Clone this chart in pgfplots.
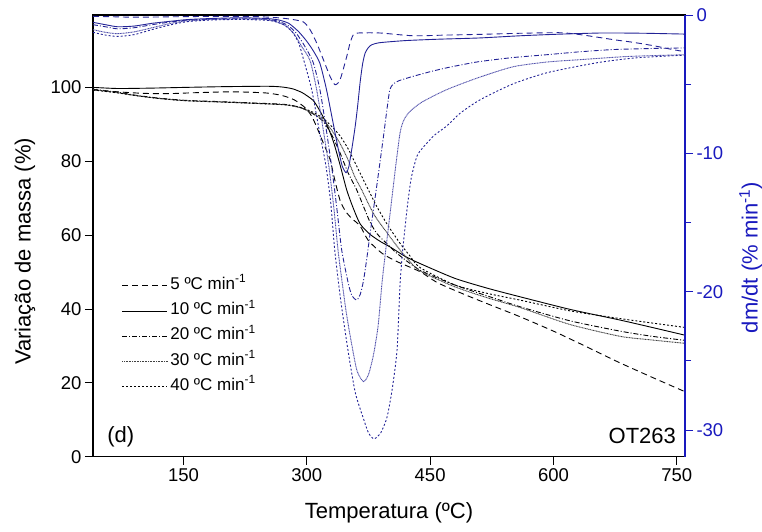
\documentclass[border=0pt]{standalone}
\usepackage{fontspec}
\setmainfont{Liberation Sans}
\usepackage{pgfplots}
\pgfplotsset{compat=1.18}
\definecolor{dtg}{RGB}{35,35,150}
\definecolor{raxis}{RGB}{25,25,190}
\begin{document}
\begin{tikzpicture}[x=1pt,y=1pt]
\path[use as bounding box] (0,0) rectangle (762,531);
\begin{axis}[
 at={(93pt,74.3pt)}, anchor=south west,
 scale only axis, width=592pt, height=441.7pt,
 xmin=40, xmax=760, ymin=0, ymax=119.6,
 xtick={150,300,450,600,750}, ytick={0,20,40,60,80,100},
 xtick pos=left, ytick pos=left, tick align=outside,
 major tick length=8pt,
 tick style={black, line width=0.8pt},
 axis line style={line width=1.2pt},
 /pgf/number format/assume math mode=true,
 every tick label/.append style={font=\fontsize{18.5}{22}\selectfont},
 xlabel={Temperatura (ºC)}, ylabel={Variação de massa (\%)},
 label style={font=\fontsize{22}{26}\selectfont},
 xlabel style={at={(axis description cs:0.5,-0.1275)}, anchor=center},
 ylabel style={at={(axis description cs:-0.1149,0.465)}, anchor=center},
 legend style={at={(rel axis cs:0.0435,0.4135)}, anchor=north west, draw=none, fill=none,
   font=\fontsize{17}{20}\selectfont, row sep=6.25pt, column sep=2.5pt,
   nodes={inner sep=0pt, text height=13pt, text depth=6pt}},
 legend cell align=left,
 legend image code/.code={\draw[#1] (0pt,0pt) -- (45pt,0pt);},
 every axis plot/.append style={line width=0.9pt},
]
\addplot[black, dash pattern=on 6pt off 4pt, smooth, tension=0.4] coordinates {
(40,99.3) (70,98.8) (100,98.4) (130,98.3) (170,98.6) (210,98.8) (250,98.5) (270,97.8) (285,96.6) (298,94.5) (306,92.2) (312,89.3) (320,85) (328.3,80.5) (334,75) (340.5,69.4) (347,66.5) (354.7,64.5) (364.8,62.5) (375,58.5) (392,55) (410,52.8) (437.8,50.1) (460,47) (498.6,43.3) (530,40.5) (559.4,37.9) (600,34) (640,29.8) (680,25.5) (720,21.5) (760,17.6)};
\addlegendentry{5 ºC min\textsuperscript{-1}}
\addplot[black, smooth, tension=0.4] coordinates {
(40,100) (70,99.7) (110,99.8) (152,100) (200,100.2) (253,100.3) (270,100.1) (283,99.6) (295,98.5) (307.6,96.5) (315,94) (324,90.2) (332.4,85.3) (340.5,79) (348.6,72.2) (356.7,67.2) (365,63) (377,60.2) (390,58.2) (401.3,56.8) (420,54.2) (437.8,52.3) (480,48.3) (520,45.6) (559.4,43.3) (620,39.9) (681,37) (720,35) (760,32.9)};
\addlegendentry{10 ºC min\textsuperscript{-1}}
\addplot[black, dash pattern=on 5pt off 2pt on 1pt off 2pt, smooth, tension=0.4] coordinates {
(40,99.5) (70,98.7) (91,97.9) (120,97.1) (152,96.5) (200,96.1) (233,95.8) (273,95.4) (290,94.7) (300,93.8) (310,92.5) (320,90.8) (330,87.3) (340,82.5) (350,77) (360.8,72.2) (370,67.2) (377,63.5) (385,60.5) (395,58.2) (410,55) (437.8,50.5) (480,46.5) (520,43.5) (559.4,40.6) (620,36.8) (681,34) (720,32.6) (760,31.5)};
\addlegendentry{20 ºC min\textsuperscript{-1}}
\addplot[black!75, dash pattern=on 1pt off 0.6pt, smooth, tension=0.4] coordinates {
(40,99.4) (70,98.6) (91,97.8) (120,97.0) (152,96.4) (200,96.0) (233,95.7) (273,95.3) (290,94.6) (300,93.8) (310,92.6) (320,91.1) (330,88.5) (340,85) (350,80.5) (358,76) (366.9,72.2) (375,68.5) (382,65.5) (389,63.2) (397,60.8) (407,57.8) (420,54.2) (437.8,50.3) (480,46) (520,43) (559.4,40.4) (620,35.8) (681,32.6) (720,31.6) (760,30.7)};
\addlegendentry{30 ºC min\textsuperscript{-1}}
\addplot[black, dash pattern=on 2pt off 2pt, smooth, tension=0.4] coordinates {
(40,99.3) (70,98.5) (91,97.8) (120,97.0) (152,96.4) (200,96.0) (233,95.7) (273,95.3) (290,94.7) (300,94) (310,93) (320,91.6) (330,89.5) (340,87) (350,83.5) (360,79) (375,72.2) (385,67.8) (397,63.2) (405,60.5) (415,57.3) (425,54.5) (437.8,51.2) (480,46.5) (520,44.2) (559.4,42.4) (620,39.5) (681,37.4) (720,36.2) (760,35.0)};
\addlegendentry{40 ºC min\textsuperscript{-1}}
\node[anchor=west, font=\fontsize{22}{26}\selectfont, inner sep=0pt] at (rel axis cs:0.024,0.0445) {(d)};
\node[anchor=east, font=\fontsize{22}{26}\selectfont, inner sep=0pt] at (rel axis cs:0.985,0.047) {OT263};
\end{axis}
\begin{axis}[
 at={(93pt,74.3pt)}, anchor=south west,
 scale only axis, width=592pt, height=441.7pt,
 xmin=40, xmax=760, ymin=-31.93, ymax=0,
 axis x line=none, axis y line*=right,
 ytick={-30,-20,-10,0}, minor ytick={-25,-15,-5},
 tick align=outside, major tick length=8pt, minor tick length=6pt,
 y axis line style={raxis, line width=1.2pt},
 ytick style={raxis, line width=0.8pt},
 minor y tick style={raxis, line width=0.8pt},
 yticklabel style={raxis, font=\fontsize{18.5}{22}\selectfont},
 /pgf/number format/assume math mode=true,
 ylabel={dm/dt (\% min\textsuperscript{-1})},
 ylabel style={raxis, font=\fontsize{22}{26}\selectfont, at={(axis description cs:1.111,0.451)}, anchor=center},
 every axis plot/.append style={line width=0.9pt},
]
\addplot[dtg, dash pattern=on 6pt off 4pt, smooth, tension=0.4] coordinates {
(40,-0.1) (60,-0.12) (80,-0.15) (110,-0.15) (150,-0.12) (200,-0.1) (240,-0.12) (265,-0.2) (280,-0.3) (295.8,-0.5) (304,-1.06) (312.1,-2.03) (320.2,-3.23) (328.3,-4.44) (334.4,-5.04) (340.5,-4.68) (348.6,-3.0) (352.6,-2.03) (356.7,-1.42) (362.7,-1.3) (389,-1.3) (429,-1.5) (470,-1.45) (510,-1.4) (560,-1.32) (608,-1.28) (630,-1.4) (653,-1.6) (675,-1.8) (694,-1.95) (710,-2.1) (726,-2.27) (745,-2.5) (760,-2.65)};
\addplot[dtg, smooth, tension=0.4] coordinates {
(40,-0.53) (55,-0.7) (70,-0.85) (90,-0.8) (112,-0.6) (135,-0.45) (155,-0.33) (185,-0.25) (220,-0.2) (250,-0.25) (265,-0.35) (278,-0.6) (290,-1.2) (300,-1.9) (308,-2.6) (316,-3.5) (324,-5.4) (332,-7.8) (338,-9.6) (343,-10.9) (347.8,-11.4) (351,-11.0) (355,-9.6) (359,-8.0) (362,-6.5) (365,-4.8) (368,-3.5) (371,-2.75) (375,-2.35) (379,-2.15) (389,-2.0) (420,-1.85) (460,-1.75) (510,-1.66) (560,-1.5) (610,-1.38) (660,-1.3) (710,-1.32) (760,-1.38)};
\addplot[dtg, dash pattern=on 5pt off 2pt on 1pt off 2pt, smooth, tension=0.4] coordinates {
(40,-0.7) (55,-0.85) (70,-1.0) (90,-0.92) (112,-0.7) (135,-0.5) (155,-0.37) (185,-0.3) (220,-0.27) (250,-0.3) (265,-0.45) (277,-0.75) (287,-1.3) (297,-2.2) (307.6,-3.4) (316,-5.4) (324,-8.4) (331,-11.3) (337,-14.2) (342.5,-17) (350.5,-19.4) (355,-20.3) (360.8,-20.6) (365,-20.2) (369,-19.2) (373,-17.6) (377,-15.8) (385,-12.4) (393,-8.9) (398,-6.6) (401,-5.4) (405,-5.0) (412,-4.75) (429,-4.44) (450,-4.1) (470,-3.82) (490,-3.58) (510.8,-3.36) (550,-3.08) (592,-2.87) (630,-2.67) (672,-2.5) (720,-2.42) (760,-2.38)};
\addplot[dtg!80, dash pattern=on 1pt off 0.6pt, smooth, tension=0.4] coordinates {
(40,-1.06) (55,-1.25) (70,-1.35) (90,-1.22) (112,-0.92) (135,-0.6) (155,-0.42) (185,-0.32) (220,-0.28) (250,-0.33) (263,-0.5) (275,-0.8) (285,-1.4) (293,-2.2) (304,-3.3) (312,-5.4) (320,-8.3) (327,-11) (333,-14) (338,-17) (342.5,-19.1) (348,-21.5) (354,-23.6) (361,-25.7) (368.8,-26.5) (375,-26.0) (381,-24.6) (386.7,-22.5) (391.6,-19.3) (396,-17) (402,-14) (408,-11) (413.5,-8.5) (418,-7.6) (425,-7.0) (440,-6.3) (470,-5.4) (510,-4.5) (551,-3.74) (592,-3.4) (632,-3.23) (690,-3.0) (760,-2.87)};
\addplot[dtg, dash pattern=on 2pt off 2pt, smooth, tension=0.4] coordinates {
(40,-1.25) (55,-1.45) (70,-1.55) (90,-1.42) (112,-1.05) (135,-0.7) (155,-0.48) (185,-0.36) (220,-0.32) (250,-0.38) (260,-0.45) (272,-0.7) (282,-1.2) (290,-2.0) (296,-3.2) (306,-5.4) (315,-8.3) (323,-10.8) (329,-13.5) (334,-17.0) (341,-20.5) (350,-24.2) (359,-27.3) (368.5,-29.1) (375,-30.2) (381.8,-30.64) (390,-30.2) (397.7,-29.05) (404,-27) (409.8,-24.2) (413.5,-19.4) (417,-16.8) (422,-14) (427,-11.8) (434,-10.2) (441,-9.6) (455,-8.7) (470.7,-8.0) (486.5,-7.1) (510.8,-6.13) (550,-5.0) (592.3,-4.17) (653,-3.45) (700,-3.1) (760,-2.9)};
\end{axis}
\end{tikzpicture}
\end{document}
